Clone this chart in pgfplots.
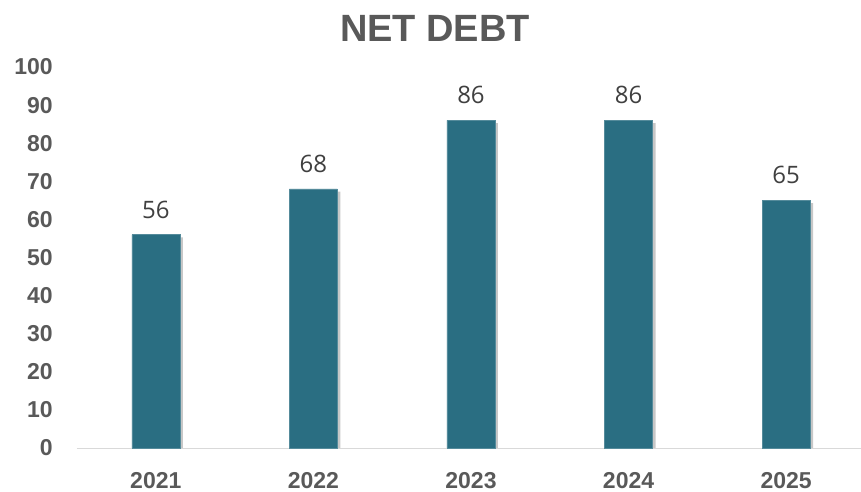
\documentclass[border=0pt]{standalone}
\usepackage{fontspec}
\setmainfont{Liberation Sans}
\newfontfamily\valfont{Open Sans}
\usepackage{pgfplots}
\pgfplotsset{compat=1.18}
\definecolor{barteal}{HTML}{2A6E82}
\definecolor{tickgray}{HTML}{595959}
\definecolor{valgray}{HTML}{404040}

\begin{document}
\begin{tikzpicture}
\useasboundingbox (-77pt,-44pt) rectangle (784pt,448pt);
\begin{axis}[
    scale only axis,
    width=784pt,
    height=381pt,
    ybar,
    bar width=48pt,
    xmin=-0.5, xmax=4.475,
    ymin=0, ymax=100,
    ytick={0,10,...,100},
    xtick={0,1,2,3,4},
    xticklabels={2021,2022,2023,2024,2025},
    axis lines=left,
    x axis line style={draw=black!15, line width=1pt, -},
    y axis line style={draw=none},
    tick style={draw=none},
    /pgf/number format/assume math mode=true,
    ticklabel style={font=\fontsize{23}{26}\selectfont\bfseries, text=tickgray},
    yticklabel style={anchor=east, inner xsep=0pt, xshift=-22pt},
    xticklabel style={anchor=center, yshift=-30pt},
    clip=false,
]
\addplot[draw=none, fill=black!22, bar shift=4pt, bar width=46pt]
    coordinates {(0,55.3) (1,67.3) (2,85.3) (3,85.3) (4,64.3)};
\addplot[draw=barteal!80!white, fill=barteal, bar shift=0pt,
    nodes near coords,
    every node near coord/.append style={font=\valfont\fontsize{24}{26}\selectfont, text=valgray, anchor=center, yshift=25pt}]
    coordinates {(0,56) (1,68) (2,86) (3,86) (4,65)};
\end{axis}
\node[font=\fontsize{38}{42}\selectfont\bfseries, text=tickgray] at (358pt,420pt) {NET DEBT};
\end{tikzpicture}
\end{document}
